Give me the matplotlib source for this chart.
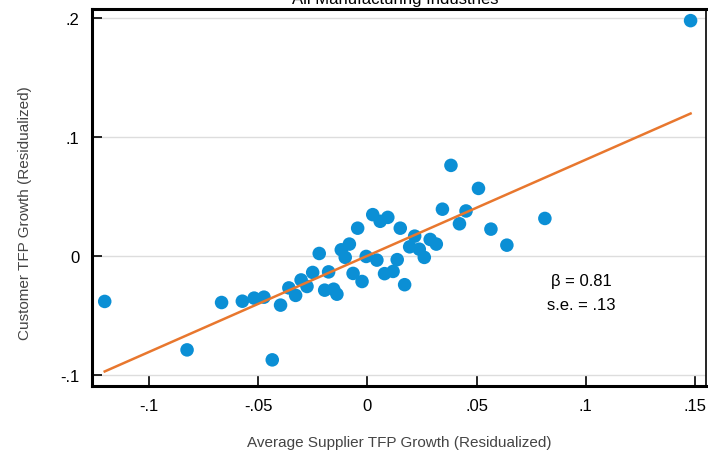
import matplotlib.pyplot as plt
import numpy as np

# binned residualized TFP growth
supplier_tfp = [-0.1202, -0.0825, -0.0667, -0.0572, -0.0518, -0.0473, -0.0397, -0.0435,
                -0.0359, -0.0328, -0.0303, -0.0276, -0.0250, -0.0220, -0.0195, -0.0154,
                -0.0139, -0.0177, -0.0119, -0.0082, -0.0101, -0.0065, -0.0044, -0.0024,
                -0.0005, 0.0025, 0.0059, 0.0094, 0.0044, 0.0079, 0.0118, 0.0137,
                0.0151, 0.0171, 0.0194, 0.0217, 0.0238, 0.0261, 0.0288, 0.0316,
                0.0344, 0.0383, 0.0422, 0.0452, 0.0509, 0.0566, 0.0639, 0.0813, 0.1480]
customer_tfp = [-0.0384, -0.0792, -0.0393, -0.0382, -0.0356, -0.0348, -0.0415, -0.0876,
                -0.0270, -0.0333, -0.0203, -0.0258, -0.0140, 0.0020, -0.0289, -0.0281,
                -0.0323, -0.0135, 0.0051, 0.0099, -0.0013, -0.0148, 0.0233, -0.0216,
                -0.0005, 0.0347, 0.0291, 0.0324, -0.0036, -0.0150, -0.0131, -0.0032,
                0.0233, -0.0243, 0.0076, 0.0166, 0.0056, -0.0013, 0.0138, 0.0099,
                0.0393, 0.0762, 0.0270, 0.0378, 0.0568, 0.0225, 0.0090, 0.0315, 0.1981]
beta = 0.81
intercept = 0.0
se = ".13"

xticks = [-0.1, -0.05, 0, 0.05, 0.1, 0.15]
xticklabels = ["-.1", "-.05", "0", ".05", ".1", ".15"]
yticks = [-0.1, 0, 0.1, 0.2]
yticklabels = ["-.1", "0", ".1", ".2"]

plt.rcParams['font.family'] = ['Liberation Sans', 'DejaVu Sans']

fig = plt.figure(figsize=(7.08, 4.6), dpi=100)
ax = fig.add_axes([0.130, 0.159, 0.867, 0.819])

x = np.array(supplier_tfp)
y = np.array(customer_tfp)
ax.scatter(x, y, s=95, color='#0b8fd5', edgecolors='none', zorder=3)

fit_x = np.array([x.min(), x.max()])
ax.plot(fit_x, intercept + beta * fit_x, color='#e8772e', lw=1.8, zorder=4)

ax.text(0.098, -0.021, "\u03b2 = " + str(beta), ha='center', va='center', fontsize=12)
ax.text(0.098, -0.041, "s.e. = " + se, ha='center', va='center', fontsize=12)

ax.set_xlim(-0.126, 0.155)
ax.set_ylim(-0.1095, 0.2078)
ax.set_xticks(xticks)
ax.set_xticklabels(xticklabels)
ax.set_yticks(yticks)
ax.set_yticklabels(yticklabels)
ax.tick_params(direction='in', length=7, width=1.2, labelsize=12, pad=9)
ax.yaxis.grid(True, color='#dddddd', lw=1)
ax.set_axisbelow(True)

for side in ['left', 'bottom', 'top']:
    ax.spines[side].set_linewidth(2.2)
ax.spines['right'].set_linewidth(1.2)

ax.set_xlabel("Average Supplier TFP Growth (Residualized)", fontsize=11, color='#444444')
ax.set_ylabel("Customer TFP Growth (Residualized)", fontsize=11, color='#444444')
ax.xaxis.set_label_coords(0.5, -0.13)
ax.yaxis.set_label_coords(-0.097, 0.46)

# title mostly cut off at top edge, as in the source
fig.text(0.558, 1 - 4 / 460, "All Manufacturing Industries", ha='center', va='baseline', fontsize=12)

fig.savefig("out.png", dpi=100)
